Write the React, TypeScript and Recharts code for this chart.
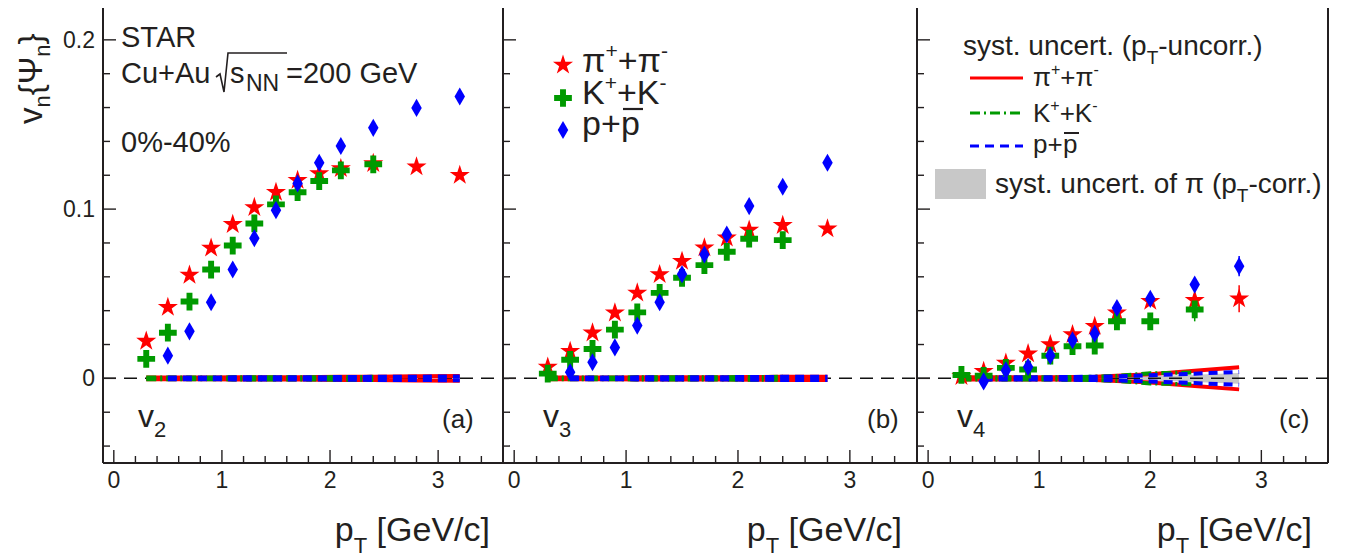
import React from "react";
import {
  ComposedChart,
  Scatter,
  Line,
  Area,
  XAxis,
  YAxis,
  ReferenceLine,
  ErrorBar,
  Symbols,
} from "recharts";

// ---------------- data ----------------
// panel (a) v2
const ptA_pi = [0.3, 0.5, 0.7, 0.9, 1.1, 1.3, 1.5, 1.7, 1.9, 2.1, 2.4, 2.8, 3.2];
const v2_pi = [0.022, 0.042, 0.061, 0.077, 0.091, 0.101, 0.11, 0.117, 0.121, 0.124, 0.127, 0.125, 0.12];
const ptA_k = [0.3, 0.5, 0.7, 0.9, 1.1, 1.3, 1.5, 1.7, 1.9, 2.1, 2.4];
const v2_k = [0.0115, 0.027, 0.0454, 0.0643, 0.0785, 0.0915, 0.1028, 0.11, 0.1166, 0.1229, 0.1265];
const ptA_p = [0.5, 0.7, 0.9, 1.1, 1.3, 1.5, 1.7, 1.9, 2.1, 2.4, 2.8, 3.2];
const v2_p = [0.0134, 0.0278, 0.045, 0.0643, 0.0828, 0.0994, 0.1152, 0.1274, 0.1373, 0.148, 0.1598, 0.1665];
const sysA_pi = [0.0005, 0.0005, 0.0005, 0.0005, 0.0006, 0.0006, 0.0007, 0.0007, 0.0008, 0.0009, 0.001, 0.0012, 0.0014];
const sysA_k = [0.0005, 0.0005, 0.0005, 0.0005, 0.0006, 0.0006, 0.0006, 0.0007, 0.0007, 0.0008, 0.0009];
const sysA_p = [0.0005, 0.0005, 0.0005, 0.0006, 0.0006, 0.0006, 0.0007, 0.0007, 0.0008, 0.0009, 0.001, 0.0011];

// panel (b) v3
const ptB_pi = [0.3, 0.5, 0.7, 0.9, 1.1, 1.3, 1.5, 1.7, 1.9, 2.1, 2.4, 2.8];
const v3_pi = [0.0067, 0.016, 0.0269, 0.0387, 0.0505, 0.0614, 0.0692, 0.0772, 0.083, 0.0876, 0.0904, 0.0884];
const ptB_k = [0.3, 0.5, 0.7, 0.9, 1.1, 1.3, 1.5, 1.7, 1.9, 2.1, 2.4];
const v3_k = [0.0028, 0.011, 0.0174, 0.0288, 0.039, 0.0505, 0.0594, 0.0669, 0.0748, 0.0825, 0.0817];
const ptB_p = [0.5, 0.7, 0.9, 1.1, 1.3, 1.5, 1.7, 1.9, 2.1, 2.4, 2.8];
const v3_p = [0.0036, 0.0095, 0.0183, 0.0312, 0.045, 0.0615, 0.0732, 0.085, 0.1018, 0.1132, 0.1274];
const sysB_pi = [0.0005, 0.0005, 0.0005, 0.0005, 0.0006, 0.0006, 0.0006, 0.0007, 0.0007, 0.0008, 0.0009, 0.001];
const sysB_k = [0.0005, 0.0005, 0.0005, 0.0005, 0.0006, 0.0006, 0.0006, 0.0007, 0.0007, 0.0008, 0.0009];
const sysB_p = [0.0005, 0.0005, 0.0005, 0.0006, 0.0006, 0.0006, 0.0007, 0.0007, 0.0008, 0.0009, 0.001];

// panel (c) v4
const ptC_pi = [0.3, 0.5, 0.7, 0.9, 1.1, 1.3, 1.5, 1.7, 2.0, 2.4, 2.8];
const v4_pi = [0.0012, 0.0042, 0.0091, 0.0146, 0.02, 0.0259, 0.0308, 0.0387, 0.0456, 0.0462, 0.047];
const e4_pi = [0.0004, 0.0005, 0.0006, 0.0008, 0.001, 0.0012, 0.0015, 0.002, 0.0025, 0.004, 0.008];
const ptC_k = [0.3, 0.5, 0.7, 0.9, 1.1, 1.3, 1.5, 1.7, 2.0, 2.4];
const v4_k = [0.002, 0.0015, 0.0062, 0.0052, 0.0134, 0.019, 0.0194, 0.0337, 0.0337, 0.0407];
const e4_k = [0.0005, 0.0006, 0.0008, 0.001, 0.0012, 0.0015, 0.002, 0.0025, 0.003, 0.007];
const ptC_p = [0.5, 0.7, 0.9, 1.1, 1.3, 1.5, 1.7, 2.0, 2.4, 2.8];
const v4_p = [-0.0018, 0.0047, 0.0067, 0.0134, 0.0225, 0.0264, 0.0416, 0.047, 0.0554, 0.0663];
const e4_p = [0.0006, 0.0008, 0.001, 0.0012, 0.0015, 0.0018, 0.002, 0.0025, 0.0035, 0.006];
const sysC_pi = [0.0006, 0.0006, 0.0006, 0.0006, 0.0007, 0.0008, 0.001, 0.0015, 0.0025, 0.0045, 0.0065];
const sysC_k = [0.0006, 0.0006, 0.0006, 0.0006, 0.0007, 0.0008, 0.001, 0.0015, 0.003, 0.0035];
const sysC_p = [0.0006, 0.0006, 0.0006, 0.0007, 0.0008, 0.001, 0.0012, 0.0018, 0.0028, 0.0038, 0.0032];
const corrC_pi = [0.0001, 0.0001, 0.0001, 0.0002, 0.0002, 0.0003, 0.0005, 0.0008, 0.0013, 0.0022, 0.0032];

// axes
const X_DOMAIN = [-0.1, 3.6];
const Y_DOMAIN = [-0.05, 0.22];
const X_TICKS = [0, 0.2, 0.4, 0.6, 0.8, 1, 1.2, 1.4, 1.6, 1.8, 2, 2.2, 2.4, 2.6, 2.8, 3, 3.2, 3.4];
const Y_TICKS = [-0.04, -0.02, 0, 0.02, 0.04, 0.06, 0.08, 0.1, 0.12, 0.14, 0.16, 0.18, 0.2];

// ---------------- styles ----------------
const FONT = '"Liberation Sans", Arial, Helvetica, sans-serif';
const INK = "#231f20";
const RED = "#ff0000";
const GREEN = "#009a00";
const BLUE = "#0000ff";
const GRAY = "#c8c8c8";
const W = 1345;
const H = 558;

type Pt = { x: number; y: number; e?: number };
const toPts = (xs: number[], ys: number[], es?: number[]): Pt[] =>
  xs.map((x, i) => ({ x, y: ys[i], e: es ? es[i] : 0 }));
const sysLine = (xs: number[], s: number[], sign: number): Pt[] =>
  xs.map((x, i) => ({ x, y: sign * s[i] }));
const band = (xs: number[], s: number[]) => xs.map((x, i) => ({ x, r: [-s[i], s[i]] }));

const isMajor = (v: number, step: number) => Math.abs(v / step - Math.round(v / step)) < 1e-6;

const makeYTick = (showLabel: boolean) => (p: any) => {
  const v = p.payload.value as number;
  const major = isMajor(v, 0.1);
  return (
    <g>
      <line x1={p.x} x2={p.x + (major ? 13 : 7)} y1={p.y} y2={p.y} stroke={INK} strokeWidth={1.4} />
      {showLabel && major ? (
        <text x={p.x - 8} y={p.y + 8} textAnchor="end" fontSize={23} fontFamily={FONT} fill={INK}>
          {v === 0 ? "0" : v.toFixed(1)}
        </text>
      ) : null}
    </g>
  );
};

const XTick = (p: any) => {
  const v = p.payload.value as number;
  const major = isMajor(v, 1);
  return (
    <g>
      <line x1={p.x} x2={p.x} y1={p.y} y2={p.y - (major ? 13 : 7)} stroke={INK} strokeWidth={1.4} />
      {major ? (
        <text x={p.x} y={p.y + 25} textAnchor="middle" fontSize={23} fontFamily={FONT} fill={INK}>
          {String(Math.round(v))}
        </text>
      ) : null}
    </g>
  );
};

const starShape = (p: any) => <Symbols cx={p.cx} cy={p.cy} type="star" size={125} fill={RED} />;
const crossShape = (p: any) => <Symbols cx={p.cx} cy={p.cy} type="cross" size={175} fill={GREEN} />;
const diamondShape = (p: any) => <Symbols cx={p.cx} cy={p.cy} type="diamond" size={95} fill={BLUE} />;

type PanelProps = {
  left: number;
  right: number;
  showYLabels: boolean;
  pi: Pt[];
  k: Pt[];
  p: Pt[];
  ptPi: number[];
  ptK: number[];
  ptP: number[];
  sPi: number[];
  sK: number[];
  sP: number[];
  corr?: { x: number; r: number[] }[];
  errors?: boolean;
};

function Panel(props: PanelProps) {
  const { left, right, showYLabels, pi, k, p, ptPi, ptK, ptP, sPi, sK, sP, corr, errors } = props;
  const lw = 4;
  return (
    <div style={{ position: "absolute", left: 0, top: 0, width: W, height: H }}>
      <ComposedChart
        width={W}
        height={H}
        margin={{ top: 6, bottom: 65, left: left - 10, right: W - right }}
      >
        <XAxis
          type="number"
          dataKey="x"
          domain={X_DOMAIN}
          ticks={X_TICKS}
          interval={0}
          allowDataOverflow
          height={30}
          tickSize={0}
          tickMargin={0}
          tickLine={false}
          tick={XTick}
          axisLine={{ stroke: INK, strokeWidth: 2 }}
        />
        <YAxis
          type="number"
          dataKey="y"
          domain={Y_DOMAIN}
          ticks={Y_TICKS}
          interval={0}
          allowDataOverflow
          width={10}
          tickSize={0}
          tickMargin={0}
          tickLine={false}
          tick={makeYTick(showYLabels)}
          axisLine={{ stroke: INK, strokeWidth: 2 }}
        />
        <ReferenceLine y={0.22} stroke={INK} strokeWidth={1.6} />
        <ReferenceLine x={3.6} stroke={INK} strokeWidth={2} />
        {corr ? (
          <Area
            data={corr}
            dataKey="r"
            type="linear"
            stroke="none"
            fill={GRAY}
            fillOpacity={1}
            isAnimationActive={false}
          />
        ) : null}
        <ReferenceLine y={0} stroke="#111" strokeWidth={1.5} strokeDasharray="13 8" />
        <Line data={sysLine(ptPi, sPi, 1)} dataKey="y" type="linear" stroke={RED} strokeWidth={lw} dot={false} isAnimationActive={false} />
        <Line data={sysLine(ptPi, sPi, -1)} dataKey="y" type="linear" stroke={RED} strokeWidth={lw} dot={false} isAnimationActive={false} />
        <Line data={sysLine(ptK, sK, 1)} dataKey="y" type="linear" stroke={GREEN} strokeWidth={lw} strokeDasharray="10 4 2 4" dot={false} isAnimationActive={false} />
        <Line data={sysLine(ptK, sK, -1)} dataKey="y" type="linear" stroke={GREEN} strokeWidth={lw} strokeDasharray="10 4 2 4" dot={false} isAnimationActive={false} />
        <Line data={sysLine(ptP, sP, 1)} dataKey="y" type="linear" stroke={BLUE} strokeWidth={lw} strokeDasharray="9 6" dot={false} isAnimationActive={false} />
        <Line data={sysLine(ptP, sP, -1)} dataKey="y" type="linear" stroke={BLUE} strokeWidth={lw} strokeDasharray="9 6" dot={false} isAnimationActive={false} />
        <Scatter data={pi} dataKey="y" shape={starShape} isAnimationActive={false}>
          {errors ? <ErrorBar dataKey="e" direction="y" width={0} stroke={RED} strokeWidth={1.5} /> : null}
        </Scatter>
        <Scatter data={k} dataKey="y" shape={crossShape} isAnimationActive={false}>
          {errors ? <ErrorBar dataKey="e" direction="y" width={0} stroke={GREEN} strokeWidth={1.5} /> : null}
        </Scatter>
        <Scatter data={p} dataKey="y" shape={diamondShape} isAnimationActive={false}>
          {errors ? <ErrorBar dataKey="e" direction="y" width={0} stroke={BLUE} strokeWidth={1.5} /> : null}
        </Scatter>
      </ComposedChart>
    </div>
  );
}

function XTitle({ right }: { right: number }) {
  return (
    <text x={right} y={541} textAnchor="end" fontSize={34} fontFamily={FONT} fill={INK}>
      p
      <tspan dy={12} fontSize={22}>T</tspan>
      <tspan dy={-12}> [GeV/c]</tspan>
    </text>
  );
}

function Overlay() {
  const t = { fontFamily: FONT, fill: INK } as const;
  return (
    <svg
      width={W}
      height={H}
      style={{ position: "absolute", left: 0, top: 0, pointerEvents: "none", overflow: "visible" }}
    >
      {/* y title */}
      <text transform="rotate(-90)" x={-124} y={42} fontSize={33} {...t}>
        v<tspan dy={8} fontSize={22}>n</tspan>
        <tspan dy={-8}>{"{\u03A8"}</tspan>
        <tspan dy={8} fontSize={22}>n</tspan>
        <tspan dy={-8}>{"}"}</tspan>
      </text>

      {/* panel a labels */}
      <text x={121} y={47} fontSize={29} {...t}>STAR</text>
      <text x={121} y={83} fontSize={29} {...t}>Cu+Au</text>
      <path d="M216 77 L220 74 L224 92 L228 53 L287 53" fill="none" stroke={INK} strokeWidth={1.6} />
      <text x={230} y={83} fontSize={29} {...t}>s</text>
      <text x={246} y={91} fontSize={23} {...t}>NN</text>
      <text x={286} y={83} fontSize={29} {...t}>=200 GeV</text>
      <text x={121} y={152} fontSize={29} {...t}>0%-40%</text>

      {/* panel labels */}
      <text x={138} y={427} fontSize={32} {...t}>v<tspan dy={10} fontSize={22}>2</tspan></text>
      <text x={543} y={427} fontSize={32} {...t}>v<tspan dy={10} fontSize={22}>3</tspan></text>
      <text x={957} y={427} fontSize={32} {...t}>v<tspan dy={10} fontSize={22}>4</tspan></text>
      <text x={442} y={428} fontSize={26} {...t}>(a)</text>
      <text x={867} y={428} fontSize={26} {...t}>(b)</text>
      <text x={1279} y={428} fontSize={26} {...t}>(c)</text>

      {/* panel b legend */}
      <Symbols cx={563} cy={65} type="star" size={125} fill={RED} />
      <Symbols cx={563} cy={98} type="cross" size={175} fill={GREEN} />
      <Symbols cx={563} cy={130} type="diamond" size={95} fill={BLUE} />
      <text x={582} y={72} fontSize={34} {...t}>
        π<tspan dy={-14} fontSize={21}>+</tspan>
        <tspan dy={14}>+π</tspan>
        <tspan dy={-14} fontSize={21}>-</tspan>
      </text>
      <text x={582} y={104} fontSize={34} {...t}>
        K<tspan dy={-14} fontSize={21}>+</tspan>
        <tspan dy={14}>+K</tspan>
        <tspan dy={-14} fontSize={21}>-</tspan>
      </text>
      <text x={582} y={135} fontSize={34} {...t}>p+</text>
      <text x={621} y={135} fontSize={34} {...t}>p</text>
      <line x1={623} x2={643} y1={109} y2={109} stroke={INK} strokeWidth={2.2} />

      {/* panel c legend */}
      <text x={963} y={55} fontSize={28} {...t}>
        syst. uncert. (p<tspan dy={9} fontSize={19}>T</tspan>
        <tspan dy={-9}>-uncorr.)</tspan>
      </text>
      <line x1={970} x2={1023} y1={78} y2={78} stroke={RED} strokeWidth={3} />
      <line x1={970} x2={1023} y1={113} y2={113} stroke={GREEN} strokeWidth={3} strokeDasharray="10 4 2 4" />
      <line x1={970} x2={1023} y1={146} y2={146} stroke={BLUE} strokeWidth={3} strokeDasharray="9 6" />
      <text x={1033} y={86} fontSize={26} {...t}>
        π<tspan dy={-11} fontSize={16}>+</tspan>
        <tspan dy={11}>+π</tspan>
        <tspan dy={-11} fontSize={16}>-</tspan>
      </text>
      <text x={1033} y={122} fontSize={26} {...t}>
        K<tspan dy={-11} fontSize={16}>+</tspan>
        <tspan dy={11}>+K</tspan>
        <tspan dy={-11} fontSize={16}>-</tspan>
      </text>
      <text x={1033} y={153} fontSize={26} {...t}>p+</text>
      <text x={1063} y={153} fontSize={26} {...t}>p</text>
      <line x1={1064} x2={1079} y1={133} y2={133} stroke={INK} strokeWidth={2} />
      <rect x={935} y={169} width={51} height={30} fill={GRAY} />
      <text x={995} y={193} fontSize={28} {...t}>
        syst. uncert. of π (p<tspan dy={9} fontSize={19}>T</tspan>
        <tspan dy={-9}>-corr.)</tspan>
      </text>

      {/* x titles */}
      <XTitle right={490} />
      <XTitle right={902} />
      <XTitle right={1312} />
    </svg>
  );
}

export default function App() {
  return (
    <div style={{ position: "relative", width: W, height: H, background: "#fff", fontFamily: FONT }}>
      <div style={{ position: "absolute", left: -8, top: -8, width: W, height: H }}>
        <Panel
          left={103}
          right={503}
          showYLabels
          pi={toPts(ptA_pi, v2_pi)}
          k={toPts(ptA_k, v2_k)}
          p={toPts(ptA_p, v2_p)}
          ptPi={ptA_pi}
          ptK={ptA_k}
          ptP={ptA_p}
          sPi={sysA_pi}
          sK={sysA_k}
          sP={sysA_p}
        />
        <Panel
          left={503}
          right={917}
          showYLabels={false}
          pi={toPts(ptB_pi, v3_pi)}
          k={toPts(ptB_k, v3_k)}
          p={toPts(ptB_p, v3_p)}
          ptPi={ptB_pi}
          ptK={ptB_k}
          ptP={ptB_p}
          sPi={sysB_pi}
          sK={sysB_k}
          sP={sysB_p}
        />
        <Panel
          left={917}
          right={1328}
          showYLabels={false}
          pi={toPts(ptC_pi, v4_pi, e4_pi)}
          k={toPts(ptC_k, v4_k, e4_k)}
          p={toPts(ptC_p, v4_p, e4_p)}
          ptPi={ptC_pi}
          ptK={ptC_k}
          ptP={ptC_p}
          sPi={sysC_pi}
          sK={sysC_k}
          sP={sysC_p}
          corr={band(ptC_pi, corrC_pi)}
          errors
        />
        <Overlay />
      </div>
    </div>
  );
}
